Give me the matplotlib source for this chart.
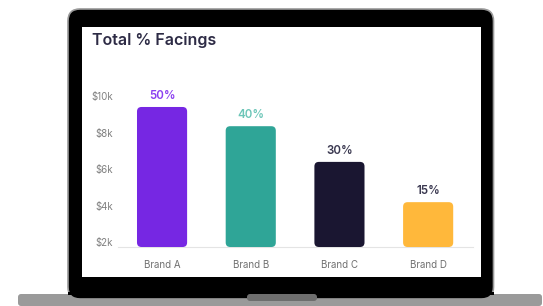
import matplotlib
matplotlib.use("Agg")
import matplotlib.pyplot as plt
from matplotlib.patches import FancyBboxPatch, Rectangle

plt.rcParams['font.family'] = ['Inter', 'DejaVu Sans']

# =========================
# Data
# =========================
brands = ["Brand A", "Brand B", "Brand C", "Brand D"]
values = [9.4, 8.35, 6.4, 4.2]          # in $k
pct_labels = ["50%", "40%", "30%", "15%"]
yticks = [2, 4, 6, 8, 10]
ytick_labels = ["$2k", "$4k", "$6k", "$8k", "$10k"]

bar_colors = ["#7627e3", "#2fa597", "#1a1631", "#ffb83b"]
label_colors = ["#8b3ff0", "#6dc6b8", "#3a3850", "#3a3850"]

W, H = 543, 306
fig = plt.figure(figsize=(W / 100, H / 100), dpi=100)

# =========================
# Laptop mockup (pixel coords)
# =========================
bg = fig.add_axes([0, 0, 1, 1])
bg.set_xlim(0, W)
bg.set_ylim(H, 0)
bg.axis("off")

# base
bg.add_patch(FancyBboxPatch((18, 294), 524, 12, boxstyle="round,pad=0,rounding_size=3",
                            facecolor="#9a9a9a", edgecolor="none"))
# frame
bg.add_patch(FancyBboxPatch((68, 9), 425.5, 290, boxstyle="round,pad=0,rounding_size=12",
                            facecolor="black", edgecolor="#9a9a9a", linewidth=1.2))
bg.add_patch(Rectangle((68, 292), 425.5, 2.5, facecolor="black", edgecolor="none"))
# notch
bg.add_patch(FancyBboxPatch((247, 294), 70, 7, boxstyle="round,pad=0,rounding_size=3",
                            facecolor="#6e6e6e", edgecolor="none"))
# screen
bg.add_patch(Rectangle((82, 26.5), 399, 250.5, facecolor="white", edgecolor="none"))

bg.text(92, 40, "Total % Facings", fontsize=11.5, fontweight="semibold",
        color="#2d2b45", va="center", ha="left")

# =========================
# Chart
# =========================
ax_l, ax_r, ax_t, ax_b = 117.7, 472.5, 96, 247
ax = fig.add_axes([ax_l / W, 1 - ax_b / H, (ax_r - ax_l) / W, (ax_b - ax_t) / H])
ax.patch.set_alpha(0)

ymin = 1.75
x = range(len(brands))
bars = ax.bar(x, [v - ymin for v in values], bottom=ymin, width=0.565, color=bar_colors)
ax.set_xlim(-0.5, 3.5)
ax.set_ylim(ymin, 10)

# swap plain bars for rounded ones
px_x = (ax_r - ax_l) / 4.0
px_y = (ax_b - ax_t) / (10 - ymin)
r_px = 4.5
for b, c in zip(bars, bar_colors):
    b.set_visible(False)
    ax.add_patch(FancyBboxPatch((b.get_x(), b.get_y()), b.get_width(), b.get_height(),
                                boxstyle="round,pad=0,rounding_size=%f" % (r_px / px_x),
                                mutation_aspect=px_x / px_y,
                                facecolor=c, edgecolor="none", zorder=3))

for i, (v, lab, c) in enumerate(zip(values, pct_labels, label_colors)):
    ax.text(i, v + 11 / px_y, lab, ha="center", va="center", fontsize=8.3,
            fontweight="semibold", color=c, clip_on=False)

ax.set_xticks(list(x))
ax.set_xticklabels(brands, fontsize=7, color="#707070")
ax.set_yticks(yticks)
ax.set_yticklabels(ytick_labels, fontsize=7, color="#808080")
ax.tick_params(axis="both", length=0)
ax.tick_params(axis="x", pad=9.5)
ax.tick_params(axis="y", pad=3.5)

for s in ["top", "right", "left"]:
    ax.spines[s].set_visible(False)
ax.spines["bottom"].set_color("#e4e4e4")
ax.spines["bottom"].set_linewidth(0.8)

fig.savefig("out.png", dpi=100, facecolor="white")
